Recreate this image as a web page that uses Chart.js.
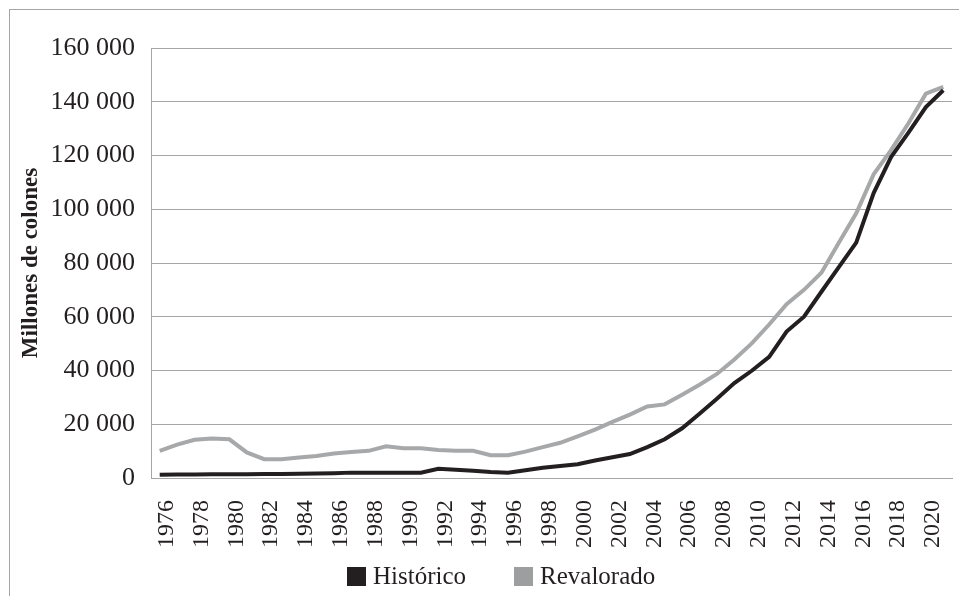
<!DOCTYPE html>
<html>
<head>
<meta charset="utf-8">
<script src="https://cdn.jsdelivr.net/npm/chart.js@4.4.0/dist/chart.umd.min.js"></script>
<style>
    body { margin: 0; background: #fff; width: 959px; height: 596px; overflow: hidden; }
    #frame { position: absolute; left: 9px; top: 9px; width: 1000px; height: 1000px; border: 1px solid #a6a6a6; }
    #chartId { position: absolute; left: 0; top: 0; }
    #legend { position: absolute; left: 347px; top: 562px; display: flex; gap: 48px; font: 25px "Liberation Serif", serif; color: #231f20; }
    #legend .item { display: flex; align-items: center; }
    #legend .box { width: 19px; height: 19px; margin-right: 7px; }
</style>
</head>
<body>
<div id="frame"></div>
<canvas id="chartId" width="959" height="596"></canvas>
<div id="legend"></div>
<script>
const years = ['1976', '1977', '1978', '1979', '1980', '1981', '1982', '1983', '1984', '1985',
    '1986', '1987', '1988', '1989', '1990', '1991', '1992', '1993', '1994', '1995',
    '1996', '1997', '1998', '1999', '2000', '2001', '2002', '2003', '2004', '2005',
    '2006', '2007', '2008', '2009', '2010', '2011', '2012', '2013', '2014', '2015',
    '2016', '2017', '2018', '2019', '2020', '2021'];

// millones de colones
const historico = [1200, 1300, 1300, 1400, 1400, 1400, 1500, 1500, 1600, 1700,
    1800, 2000, 2000, 2000, 2000, 2000, 3400, 3100, 2700, 2200,
    2000, 2900, 3800, 4500, 5100, 6500, 7700, 8900, 11500, 14400,
    18500, 23900, 29500, 35300, 39900, 45100, 54500, 60000, 69300, 78500,
    87600, 106000, 119400, 128500, 138000, 144300];

const revalorado = [10100, 12400, 14200, 14700, 14400, 9500, 7000, 7000, 7600, 8200,
    9100, 9700, 10100, 11800, 11100, 11100, 10400, 10100, 10100, 8500,
    8500, 9800, 11500, 13100, 15500, 18000, 20900, 23600, 26600, 27400,
    31000, 34700, 38700, 44100, 50100, 57100, 64700, 70000, 76400, 87500,
    98500, 113000, 122000, 132000, 143000, 145500];

const yTicks = [0, 20000, 40000, 60000, 80000, 100000, 120000, 140000, 160000];

Chart.defaults.font.family = "'Liberation Serif', serif";
Chart.defaults.color = '#231f20';

function thousands(v) {
    return String(v).replace(/\B(?=(\d{3})+(?!\d))/g, ' ');
}

var chrt = document.getElementById("chartId").getContext("2d");
var chartId = new Chart(chrt, {
    type: 'line',
    data: {
        labels: years,
        datasets: [{
            label: 'Histórico',
            data: historico,
            borderColor: '#231f20',
            backgroundColor: '#231f20',
            borderWidth: 4,
            pointRadius: 0,
            tension: 0,
        }, {
            label: 'Revalorado',
            data: revalorado,
            borderColor: '#a7a8aa',
            backgroundColor: '#9d9ea0',
            borderWidth: 4,
            pointRadius: 0,
            tension: 0,
        }],
    },
    options: {
        responsive: false,
        animation: false,
        layout: { padding: { left: 10, top: 48, right: 7, bottom: 48 } },
        plugins: {
            legend: { display: false },
            tooltip: { enabled: false },
        },
        scales: {
            x: {
                offset: true,
                grid: { display: false },
                border: { display: true, color: '#a6a6a6', width: 1 },
                ticks: {
                    autoSkip: false,
                    maxRotation: 90,
                    minRotation: 90,
                    padding: 14,
                    labelOffset: 7,
                    font: { size: 24 },
                    callback: function (value, index) {
                        return index % 2 === 0 ? years[index] : '';
                    },
                },
                afterFit: function (scale) {
                    scale.height = 70;
                    scale.paddingLeft = 0;
                    scale.paddingRight = 0;
                },
            },
            y: {
                min: 0,
                max: 160000,
                grid: { color: '#a6a6a6', lineWidth: 1, drawTicks: false },
                border: { display: true, color: '#a6a6a6', width: 1 },
                afterBuildTicks: function (scale) {
                    scale.ticks = yTicks.map(function (v) { return { value: v }; });
                },
                ticks: {
                    padding: 16,
                    font: { size: 26 },
                    callback: function (value) { return thousands(value); },
                },
                title: {
                    display: true,
                    text: 'Millones de colones',
                    font: { size: 23, weight: 'bold' },
                    padding: { top: 7, bottom: 4 },
                },
                afterFit: function (scale) { scale.width = 141; },
            },
        },
    },
});

// legend built from the chart's own legend items
var legendEl = document.getElementById('legend');
chartId.options.plugins.legend.labels.generateLabels(chartId).forEach(function (item) {
    var el = document.createElement('div');
    el.className = 'item';
    var box = document.createElement('span');
    box.className = 'box';
    box.style.background = item.fillStyle;
    el.appendChild(box);
    el.appendChild(document.createTextNode(item.text));
    legendEl.appendChild(el);
});
</script>
</body>
</html>
